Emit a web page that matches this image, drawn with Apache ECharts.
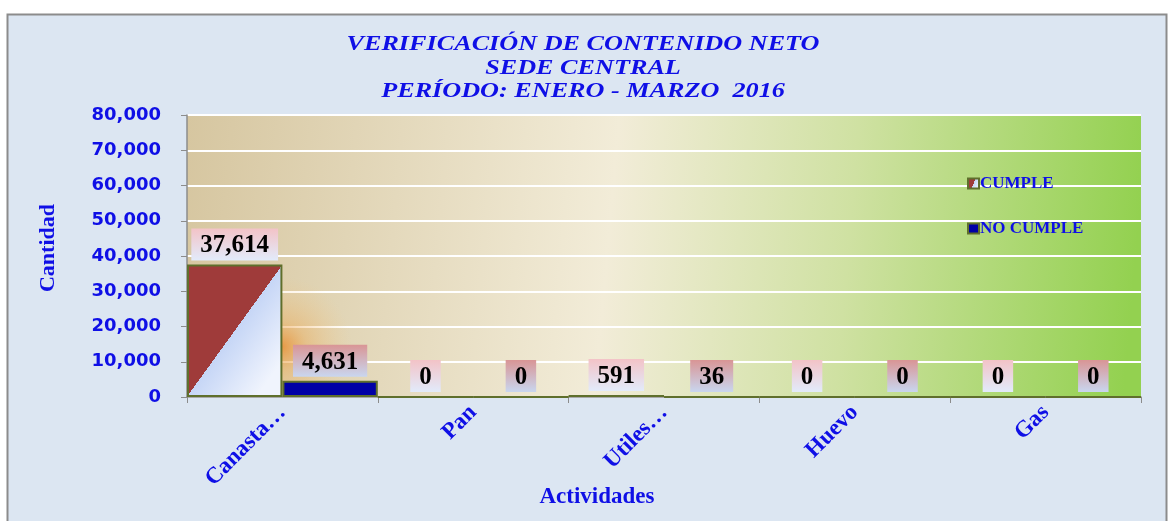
<!DOCTYPE html>
<html>
<head>
<meta charset="utf-8">
<script src="https://cdn.jsdelivr.net/npm/echarts@6/dist/echarts.min.js"></script>
<style>
  html, body { margin: 0; padding: 0; background: #ffffff; }
  #main { width: 1171px; height: 521px; }
</style>
</head>
<body>
<div id="main"></div>
<script>
// datos del grafico
var categorias = ['Canasta…', 'Pan', 'Utiles…', 'Huevo', 'Gas'];
var cumple = [37614, 0, 591, 0, 0];
var noCumple = [4631, 0, 36, 0, 0];
var ejeY = { min: 0, max: 80000, interval: 10000 };
var titulo = ['VERIFICACIÓN DE CONTENIDO NETO', 'SEDE CENTRAL', 'PERÍODO: ENERO - MARZO  2016'];

var azul = '#0f0fe6';
var serif = '"Liberation Serif", "Times New Roman", serif';

function fmt(v) {
  return String(v).replace(/\B(?=(\d{3})+(?!\d))/g, ',');
}

function grad(c1, c2) {
  return new echarts.graphic.LinearGradient(0, 0, 0, 1, [
    { offset: 0, color: c1 },
    { offset: 1, color: c2 }
  ]);
}

var myChart = echarts.init(document.getElementById('main'));
myChart.setOption({
  backgroundColor: '#ffffff',
  animation: false,
  graphic: [{
    type: 'rect',
    shape: { x: 7.5, y: 14.5, width: 1159, height: 530 },
    style: { fill: '#dce6f2', stroke: '#8c8c8c', lineWidth: 2 },
    z: -10
  }, {
    // titulo, estirado a lo ancho como en el original
    type: 'text',
    x: 583,
    y: 33,
    scaleX: 1.19,
    style: {
      text: titulo.join('\n'),
      align: 'center',
      verticalAlign: 'top',
      fill: azul,
      font: 'italic bold 22px ' + serif,
      lineHeight: 23.5
    }
  }, {
    // halo naranja junto a la primera barra
    type: 'rect',
    shape: { x: 282, y: 255, width: 70, height: 141 },
    style: {
      fill: new echarts.graphic.RadialGradient(0, 0.65, 1, [
        { offset: 0, color: 'rgba(232,140,45,0.8)' },
        { offset: 0.35, color: 'rgba(238,168,80,0.4)' },
        { offset: 1, color: 'rgba(245,200,130,0)' }
      ])
    },
    z: 1
  }],
  legend: {
    orient: 'vertical',
    left: 962,
    top: 170,
    itemGap: 28,
    itemWidth: 11,
    itemHeight: 10,
    icon: 'rect',
    textStyle: { fontFamily: serif, fontWeight: 'bold', fontSize: 17, color: azul, padding: [0, 0, 0, -4] },
    data: ['CUMPLE', 'NO CUMPLE']
  },
  grid: {
    left: 187,
    right: 30,
    top: 115,
    bottom: 124,
    outerBoundsMode: 'none',
    show: true,
    borderWidth: 0,
    backgroundColor: new echarts.graphic.LinearGradient(0, 0, 1, 0.3, [
      { offset: 0, color: '#d6c6a0' },
      { offset: 0.45, color: '#f2ecd8' },
      { offset: 0.7, color: '#cfe1a2' },
      { offset: 1, color: '#93d150' }
    ])
  },
  xAxis: {
    type: 'category',
    data: categorias,
    name: 'Actividades',
    nameLocation: 'middle',
    nameGap: 89,
    nameMoveOverlap: false,
    nameTextStyle: { fontFamily: serif, fontWeight: 'bold', fontSize: 23, color: azul, padding: [0, 134, 0, 0] },
    axisLine: { lineStyle: { color: '#8c8c8c', width: 1.5 } },
    axisTick: { show: true, length: 6, lineStyle: { color: '#8c8c8c' } },
    axisLabel: {
      rotate: 45,
      interval: 0,
      margin: 12,
      fontFamily: serif,
      fontWeight: 'bold',
      fontSize: 23,
      color: azul
    }
  },
  yAxis: {
    type: 'value',
    min: ejeY.min,
    max: ejeY.max,
    interval: ejeY.interval,
    name: 'Cantidad',
    nameLocation: 'middle',
    nameGap: 128,
    nameMoveOverlap: false,
    nameTextStyle: { fontFamily: serif, fontWeight: 'bold', fontSize: 22, color: azul, padding: [0, 0, 0, 16] },
    axisLine: { show: true, lineStyle: { color: '#8c8c8c', width: 1.5 } },
    axisTick: { show: true, length: 6, lineStyle: { color: '#8c8c8c' } },
    splitLine: { lineStyle: { color: '#ffffff', width: 2 } },
    axisLabel: {
      margin: 26,
      fontFamily: '"DejaVu Sans", Verdana, sans-serif',
      fontWeight: 'bold',
      fontSize: 18,
      color: azul,
      formatter: function (v) { return fmt(v); }
    }
  },
  series: [{
    name: 'CUMPLE',
    type: 'bar',
    data: cumple,
    barGap: '0%',
    barCategoryGap: '0%',
    itemStyle: {
      color: new echarts.graphic.LinearGradient(0.02, 0.25, 0.98, 0.75, [
        { offset: 0, color: '#9f3b3a' },
        { offset: 0.5, color: '#9f3b3a' },
        { offset: 0.5, color: '#c6d6f6' },
        { offset: 1, color: '#f0f4fd' }
      ]),
      borderColor: '#5f6f2c',
      borderWidth: 2
    },
    label: {
      show: true,
      position: 'top',
      distance: 4,
      formatter: function (p) { return fmt(p.value); },
      fontFamily: serif,
      fontWeight: 'bold',
      fontSize: 25,
      color: '#000',
      padding: [5, 9, 2, 9],
      backgroundColor: grad('#f3c3c7', '#e2ebfb')
    }
  }, {
    name: 'NO CUMPLE',
    type: 'bar',
    data: noCumple,
    itemStyle: {
      color: '#0000a6',
      borderColor: '#5f6f2c',
      borderWidth: 2
    },
    label: {
      show: true,
      position: 'top',
      distance: 4,
      formatter: function (p) { return fmt(p.value); },
      fontFamily: serif,
      fontWeight: 'bold',
      fontSize: 25,
      color: '#000',
      padding: [5, 9, 2, 9],
      backgroundColor: grad('#d99595', '#c9d6ef')
    }
  }]
});
</script>
</body>
</html>
